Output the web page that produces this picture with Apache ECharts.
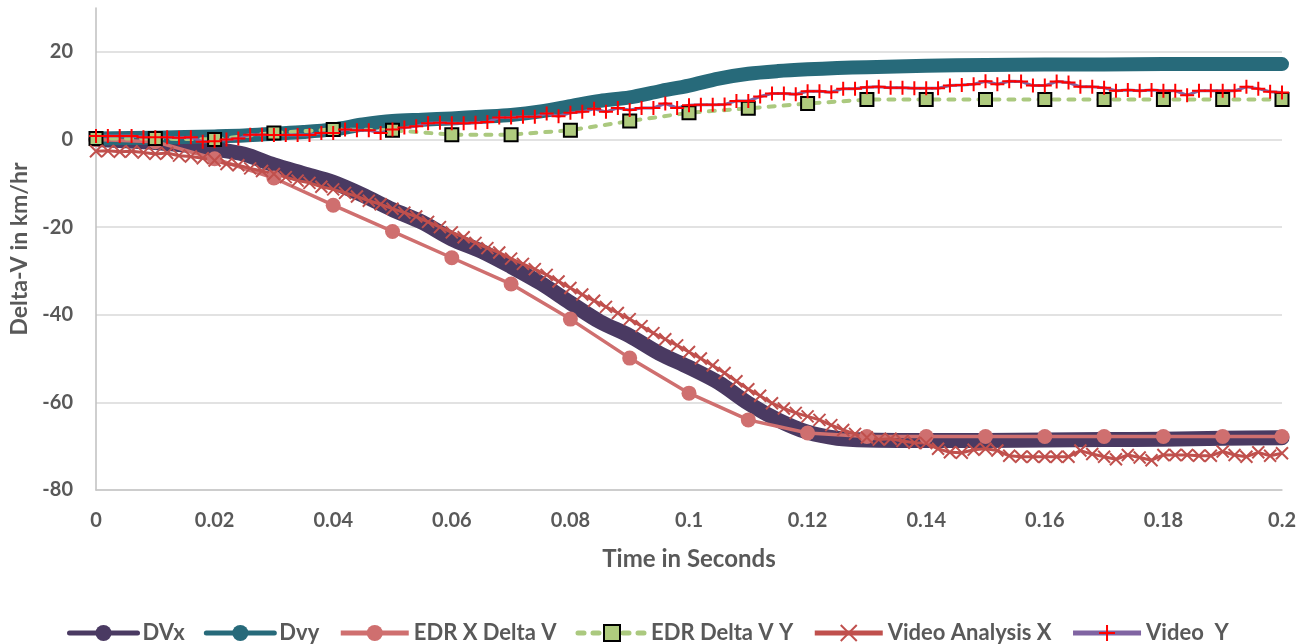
<!DOCTYPE html>
<html>
<head>
<meta charset="utf-8">
<script src="https://cdn.jsdelivr.net/npm/echarts@6/dist/echarts.min.js"></script>
<style>
html,body{margin:0;padding:0;background:#fff;}
#chart{width:1309px;height:644px;}
</style>
</head>
<body>
<div id="chart"></div>
<script>
// ---- Data ----
var seriesNames = ['DVx', 'Dvy', 'EDR X Delta V', 'EDR Delta V Y', 'Video Analysis X', 'Video  Y'];

var dvxTime = [0,0.005,0.01,0.015,0.02,0.025,0.03,0.035,0.04,0.045,0.05,0.055,0.06,0.065,0.07,0.075,0.08,0.085,0.09,0.095,0.1,0.105,0.11,0.115,0.12,0.125,0.13,0.14,0.15,0.16,0.17,0.18,0.19,0.2];
var dvxVal  = [0,-0.3,-0.7,-1.3,-2.2,-3.4,-5.8,-7.8,-9.8,-12.7,-16.0,-18.9,-22.7,-25.5,-29.0,-32.8,-37.3,-41.6,-44.8,-48.8,-52.0,-55.5,-60.2,-64.0,-66.8,-68.2,-68.6,-68.7,-68.7,-68.6,-68.5,-68.4,-68.2,-68.1];

var dvyTime = [0,0.01,0.02,0.025,0.03,0.035,0.04,0.045,0.05,0.055,0.06,0.065,0.07,0.075,0.08,0.085,0.09,0.095,0.1,0.105,0.11,0.115,0.12,0.125,0.13,0.14,0.15,0.16,0.17,0.18,0.19,0.2];
var dvyVal  = [0.2,0.4,0.7,0.9,1.3,1.7,2.3,3.4,4.2,4.5,4.8,5.2,5.6,6.4,7.6,8.8,9.6,11.0,12.3,13.9,15.0,15.6,16.0,16.3,16.5,16.8,17.0,17.1,17.1,17.2,17.2,17.2];

var edrTime = [0,0.01,0.02,0.03,0.04,0.05,0.06,0.07,0.08,0.09,0.1,0.11,0.12,0.13,0.14,0.15,0.16,0.17,0.18,0.19,0.2];
var edrXVal = [0,-0.5,-4.4,-8.8,-15.0,-21.0,-27.0,-33.0,-41.0,-49.9,-57.9,-64.0,-67.0,-67.8,-67.8,-67.8,-67.8,-67.8,-67.8,-67.8,-67.8];
var edrYVal = [0.2,0.2,0,1.5,2.3,2.1,1.1,1.1,2.1,4.2,6.1,7.1,8.2,9.1,9.1,9.1,9.1,9.1,9.1,9.1,9.1];

var videoTime = [0,0.002,0.004,0.006,0.008,0.01,0.012,0.014,0.016,0.018,
  0.02,0.022,0.024,0.026,0.028,0.03,0.032,0.034,0.036,0.038,
  0.04,0.042,0.044,0.046,0.048,0.05,0.052,0.054,0.056,0.058,
  0.06,0.062,0.064,0.066,0.068,0.07,0.072,0.074,0.076,0.078,
  0.08,0.082,0.084,0.086,0.088,0.09,0.092,0.094,0.096,0.098,
  0.1,0.102,0.104,0.106,0.108,0.11,0.112,0.114,0.116,0.118,
  0.12,0.122,0.124,0.126,0.128,0.13,0.132,0.134,0.136,0.138,
  0.14,0.142,0.144,0.146,0.148,0.15,0.152,0.154,0.156,0.158,
  0.16,0.162,0.164,0.166,0.168,0.17,0.172,0.174,0.176,0.178,
  0.18,0.182,0.184,0.186,0.188,0.19,0.192,0.194,0.196,0.198,0.2];
var videoXVal = [-2.7,-2.6,-2.8,-2.7,-3.0,-3.3,-3.1,-3.7,-3.9,-4.3,
  -4.8,-5.6,-5.9,-6.6,-7.2,-7.9,-8.6,-9.4,-9.9,-10.8,
  -11.4,-12.2,-13.0,-14.0,-14.8,-15.8,-16.7,-17.6,-18.8,-20.0,
  -21.2,-22.3,-23.6,-24.8,-25.8,-27.2,-28.4,-29.6,-30.9,-32.4,
  -33.9,-35.4,-36.8,-38.2,-39.6,-41.0,-42.6,-44.2,-45.6,-47.0,
  -48.5,-50.0,-51.6,-53.3,-55.2,-57.0,-58.5,-60.2,-61.4,-62.4,
  -63.2,-64.0,-65.2,-66.3,-67.2,-68.0,-68.5,-68.3,-68.8,-69.2,
  -69.3,-70.6,-71.4,-71.5,-70.8,-70.6,-71.0,-72.2,-72.4,-72.4,
  -72.4,-72.4,-72.4,-71.0,-71.8,-72.4,-73.0,-72.0,-72.6,-73.2,
  -72.0,-72.0,-72.0,-72.2,-72.2,-71.2,-72.0,-72.4,-71.4,-72.2,-71.6];
var videoYVal = [0.8,0.8,0.8,0.8,0.5,0.5,0.5,0.4,0.5,-0.5,
  -0.4,0.0,0.2,1.1,1.1,1.0,1.0,1.0,1.0,1.5,
  1.5,2.3,2.1,2.1,1.5,2.3,2.7,3.0,3.7,3.8,
  3.7,3.7,3.8,4.0,5.0,5.0,5.2,5.2,5.9,5.3,
  6.1,6.3,7.0,6.3,7.2,6.7,7.2,7.2,8.2,7.2,
  7.8,7.9,7.9,8.0,8.8,8.8,9.8,10.5,10.5,10.3,
  11.0,11.0,10.8,11.6,11.6,11.9,12.0,11.8,11.8,11.7,
  11.7,11.7,12.3,12.4,12.6,13.3,12.6,13.3,13.2,12.3,
  12.3,13.2,13.0,12.0,12.0,11.8,11.1,11.3,11.1,11.3,
  11.1,11.1,10.1,11.1,11.1,11.1,11.1,12.0,11.6,10.9,10.7];

var xAxisTitle = 'Time in Seconds';
var yAxisTitle = 'Delta-V in km/hr';

function pairs(t, v) {
  var out = [];
  for (var i = 0; i < t.length; i++) out.push([t[i], v[i]]);
  return out;
}

var FONT = 'Lato';
var TXT = '#595959';
var chart = echarts.init(document.getElementById('chart'), null, {renderer: 'canvas'});
chart.setOption({
  animation: false,
  backgroundColor: '#ffffff',
  grid: {left: 96, right: 27, top: 8, bottom: 154, containLabel: false},
  xAxis: {
    type: 'value', min: 0, max: 0.2, interval: 0.02,
    name: xAxisTitle, nameLocation: 'middle', nameGap: 57,
    nameTextStyle: {fontFamily: FONT, fontWeight: 'bold', fontSize: 24, color: TXT},
    axisLine: {onZero: false, lineStyle: {color: '#c6c6c6', width: 1.5}},
    axisTick: {show: false},
    splitLine: {show: false},
    axisLabel: {margin: 21, fontFamily: FONT, fontWeight: 'bold', fontSize: 20, color: TXT}
  },
  yAxis: {
    type: 'value', min: -80, max: 30, interval: 20,
    name: yAxisTitle, nameLocation: 'middle', nameGap: 64,
    nameTextStyle: {fontFamily: FONT, fontWeight: 'bold', fontSize: 23, color: TXT},
    axisLine: {show: true, lineStyle: {color: '#bfbfbf', width: 1.5}},
    axisTick: {show: false},
    splitLine: {show: true, showMaxLine: false, lineStyle: {color: '#d9d9d9', width: 1.5}},
    axisLabel: {margin: 23, showMaxLabel: false, fontFamily: FONT, fontWeight: 'bold', fontSize: 20, color: TXT}
  },
  legend: {
    data: seriesNames,
    left: 62, top: 617,
    itemWidth: 68, itemHeight: 20, itemGap: 19,
    textStyle: {fontFamily: FONT, fontWeight: 'bold', fontSize: 22, color: TXT},
    lineStyle: {width: 5},
    selectedMode: false
  },
  series: [
    {
      name: seriesNames[0], type: 'line', data: pairs(dvxTime, dvxVal),
      smooth: 0.3, symbol: 'circle', symbolSize: 14, showSymbol: false,
      lineStyle: {color: '#4a3a62', width: 15, cap: 'round', join: 'round'},
      itemStyle: {color: '#4a3a62'}
    },
    {
      name: seriesNames[1], type: 'line', data: pairs(dvyTime, dvyVal),
      smooth: 0.3, symbol: 'circle', symbolSize: 14, showSymbol: false,
      lineStyle: {color: '#276a7a', width: 14, cap: 'round', join: 'round'},
      itemStyle: {color: '#276a7a'}
    },
    {
      name: seriesNames[2], type: 'line', data: pairs(edrTime, edrXVal),
      symbol: 'circle', symbolSize: 15,
      lineStyle: {color: '#cf6f6f', width: 3.5},
      itemStyle: {color: '#cf6f6f'}
    },
    {
      name: seriesNames[3], type: 'line', data: pairs(edrTime, edrYVal),
      symbol: 'rect', symbolSize: 13,
      lineStyle: {color: '#abc97f', width: 4, type: [6, 9], cap: 'round'},
      itemStyle: {color: '#afcb7e', borderColor: '#000000', borderWidth: 2}
    },
    {
      name: seriesNames[4], type: 'line', data: pairs(videoTime, videoXVal),
      symbol: 'path://M0,0L10,10M10,0L0,10', symbolSize: 12,
      lineStyle: {color: '#c0504d', width: 3},
      itemStyle: {color: 'none', borderColor: '#c0504d', borderWidth: 2}
    },
    {
      name: seriesNames[5], type: 'line', data: pairs(videoTime, videoYVal),
      symbol: 'path://M5,0L5,10M0,5L10,5', symbolSize: 14,
      lineStyle: {color: '#8064a2', width: 3},
      itemStyle: {color: 'none', borderColor: '#ff0000', borderWidth: 2}
    }
  ]
});
</script>
</body>
</html>
